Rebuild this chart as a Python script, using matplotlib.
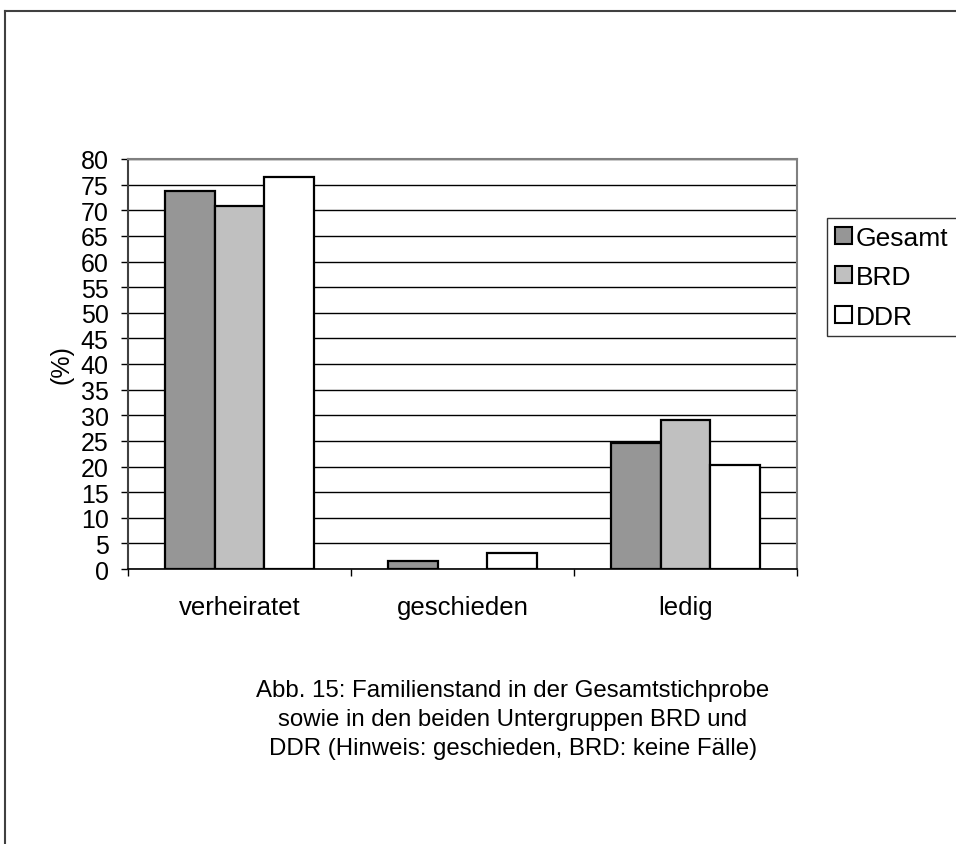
import matplotlib
matplotlib.use("Agg")
import matplotlib.pyplot as plt
from matplotlib.lines import Line2D
import numpy as np

plt.rcParams['font.family'] = ['Liberation Sans', 'DejaVu Sans']

categories = ["verheiratet", "geschieden", "ledig"]
series_names = ["Gesamt", "BRD", "DDR"]
gesamt = [73.7, 1.6, 24.6]
brd = [70.9, 0.0, 29.1]
ddr = [76.5, 3.1, 20.3]
series_values = [gesamt, brd, ddr]
series_colors = ["#969696", "#c0c0c0", "#ffffff"]
y_ticks = list(range(0, 81, 5))
caption = ("Abb. 15: Familienstand in der Gesamtstichprobe\n"
           "sowie in den beiden Untergruppen BRD und\n"
           "DDR (Hinweis: geschieden, BRD: keine Fälle)")

W, H = 956, 845
fig = plt.figure(figsize=(W / 100, H / 100), dpi=100)
ax = fig.add_axes([128 / W, 1 - 570 / H, (797 - 128) / W, (570 - 160) / H])

n_cat = len(categories)
n_ser = len(series_names)
bar_w = 1.0 / (n_ser + 1.5)
x = np.arange(n_cat)
handles = []
for i, (vals, col, name) in enumerate(zip(series_values, series_colors, series_names)):
    offs = (i - (n_ser - 1) / 2) * bar_w
    keep = [j for j, v in enumerate(vals) if v > 0]
    b = ax.bar(x[keep] + offs, [vals[j] for j in keep], width=bar_w,
               color=col, edgecolor="black", linewidth=1.6, zorder=3, label=name)
    handles.append(b)

ax.set_xlim(-0.5, n_cat - 0.5)
ax.set_ylim(0, 80)
ax.set_yticks(y_ticks)
ax.set_yticklabels([str(t) for t in y_ticks], fontsize=18)
ax.yaxis.grid(True, color="black", linewidth=1, zorder=0)
ax.set_axisbelow(True)

ax.set_xticks(np.arange(-0.5, n_cat, 1.0))
ax.set_xticklabels([])
ax.set_xticks(x, minor=True)
ax.set_xticklabels(categories, minor=True, fontsize=18.5)
ax.tick_params(axis="x", which="minor", length=0, pad=19)
ax.tick_params(axis="x", which="major", length=5, width=1, color="black", direction="out")
ax.tick_params(axis="y", length=5, width=1, color="black", direction="out", pad=9)

for side in ("top", "right"):
    ax.spines[side].set_color("#808080")
    ax.spines[side].set_linewidth(1.5)
ax.spines["left"].set_color("#404040")
ax.spines["left"].set_linewidth(1.5)
ax.spines["bottom"].set_color("black")
ax.spines["bottom"].set_linewidth(1.2)

ax.set_ylabel("(%)", fontsize=18, labelpad=5)

leg = fig.legend(handles=handles, labels=series_names, loc="upper left",
                 bbox_to_anchor=(827 / W, 1 - 219 / H), fontsize=19,
                 frameon=True, fancybox=False, edgecolor="black",
                 handlelength=0.65, handleheight=0.62, handletextpad=0.15,
                 labelspacing=0.58, borderpad=0.3, borderaxespad=0)
leg.get_frame().set_linewidth(1)
for p in leg.get_patches():
    p.set_linewidth(1.5)

fig.text(513 / W, 1 - 680 / H, caption, ha="center", va="top",
         fontsize=17.3, linespacing=1.42)

# outer frame (top and left edges)
fig.add_artist(Line2D([4.5 / W, 1.0], [1 - 11.5 / H, 1 - 11.5 / H],
                      transform=fig.transFigure, color="#404040", linewidth=1.5))
fig.add_artist(Line2D([4.5 / W, 4.5 / W], [0, 1 - 11.5 / H],
                      transform=fig.transFigure, color="#404040", linewidth=1.5))

fig.savefig("out.png", dpi=100)
